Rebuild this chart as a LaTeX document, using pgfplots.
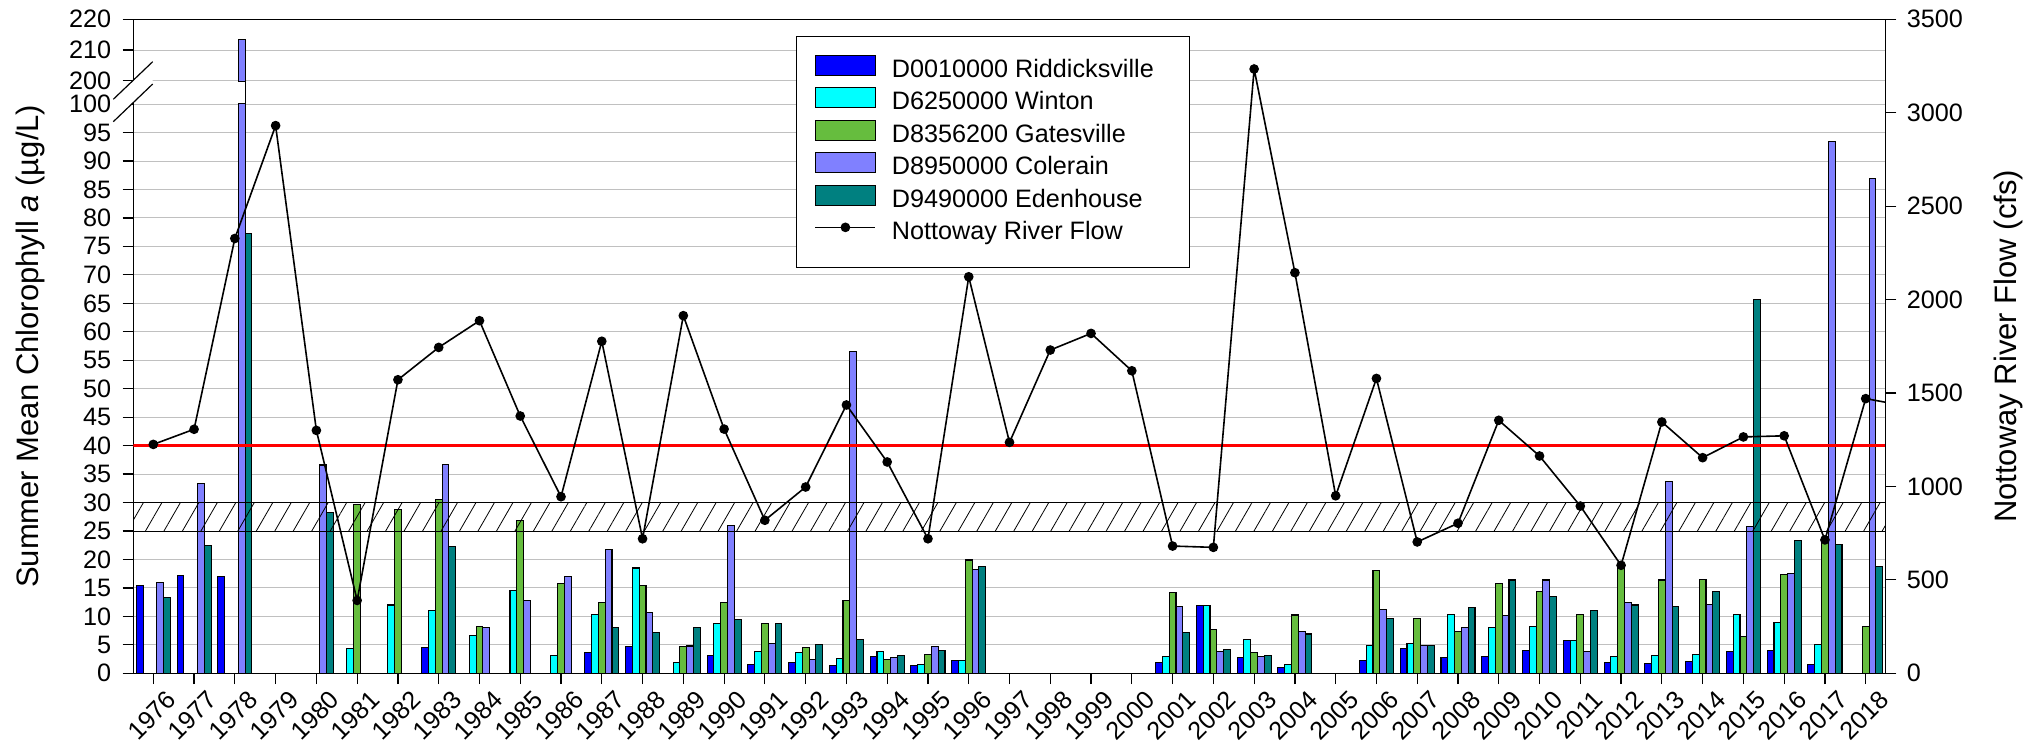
\documentclass[border=0pt]{standalone}
\usepackage{fontspec}
\setmainfont{Liberation Sans}
\usepackage{pgfplots}
\pgfplotsset{compat=1.18}
\usepackage{pgfplotstable}
\usetikzlibrary{patterns.meta}

\definecolor{ridd}{RGB}{0,0,255}
\definecolor{wint}{RGB}{0,255,255}
\definecolor{gate}{RGB}{102,189,62}
\definecolor{cole}{RGB}{128,128,255}
\definecolor{eden}{RGB}{0,128,128}
\definecolor{gridgray}{RGB}{192,192,192}

\newcommand{\tickfont}{\fontsize{12.6}{15}\selectfont}
\newcommand{\labfont}{\fontsize{15.5}{18}\selectfont}

% year index: 0 = 1976 ... 42 = 2018
\pgfplotstableread{
x y
0 15.5
1 17.2
2 17.0
7 4.5
11 3.7
12 4.7
14 3.2
15 1.6
16 1.9
17 1.3
18 3.0
19 1.35
20 2.3
25 1.9
26 11.95
27 2.75
28 1.0
30 2.2
31 4.4
32 2.75
33 2.9
34 4.0
35 5.7
36 1.9
37 1.7
38 2.05
39 3.8
40 4.0
41 1.5
}\tabRidd

\pgfplotstableread{
x y
5 4.3
6 12.0
7 11.0
8 6.7
9 14.5
10 3.2
11 10.4
12 18.5
13 1.9
14 8.7
15 3.9
16 3.7
17 2.6
18 3.9
19 1.6
20 2.3
25 3.0
26 11.95
27 5.9
28 1.6
30 4.9
31 5.3
32 10.3
33 8.1
34 8.3
35 5.7
36 2.9
37 3.1
38 3.3
39 10.4
40 9.0
41 5.0
}\tabWint

\pgfplotstableread{
x y
5 29.6
6 28.8
7 30.6
8 8.2
9 26.8
10 15.7
11 12.5
12 15.4
13 4.7
14 12.5
15 8.7
16 4.5
17 12.8
18 2.4
19 3.3
20 19.9
25 14.2
26 7.7
27 3.6
28 10.25
30 18.0
31 9.7
32 7.3
33 15.8
34 14.4
35 10.4
36 19.0
37 16.4
38 16.5
39 6.4
40 17.3
41 23.4
42 8.2
}\tabGate

\pgfplotstableread{
x y
0 16.0
1 33.3
2 213.5
4 36.6
7 36.7
8 8.0
9 12.8
10 17.0
11 21.8
12 10.7
13 4.8
14 26.0
15 5.3
16 2.4
17 56.5
18 2.75
19 4.7
20 18.3
25 11.7
26 3.9
27 2.9
28 7.3
30 11.2
31 4.9
32 8.0
33 10.2
34 16.4
35 3.9
36 12.5
37 33.7
38 12.1
39 25.8
40 17.6
41 93.5
42 87.0
}\tabCole

\pgfplotstableread{
x y
0 13.3
1 22.4
2 77.3
4 28.2
7 22.2
11 8.0
12 7.2
13 8.0
14 9.4
15 8.7
16 5.0
17 6.0
18 3.2
19 4.0
20 18.7
25 7.1
26 4.2
27 3.2
28 6.9
30 9.7
31 4.9
32 11.5
33 16.4
34 13.5
35 11.1
36 12.0
37 11.8
38 14.35
39 65.6
40 23.4
41 22.7
42 18.8
}\tabEden

\pgfplotstableread{
x y
0 1225
1 1306
2 2327
3 2931
4 1300
5 390
6 1571
7 1744
8 1887
9 1377
10 945
11 1777
12 720
13 1914
14 1307
15 819
16 997
17 1436
18 1131
19 720
20 2122
21 1236
22 1730
23 1819
24 1619
25 681
26 674
27 3234
28 2144
29 950
30 1578
31 703
32 803
33 1354
34 1163
35 895
36 578
37 1345
38 1154
39 1265
40 1271
41 714
42 1470
43 1430
}\tabFlow

\pgfplotsset{
  common/.style={
    at={(0pt,0pt)}, anchor=south west,
    scale only axis, width=876.2pt, height=327pt,
    xmin=-0.4906, xmax=42.4906,
    tick align=outside, major tick length=5.35pt,
    every tick/.style={black, line width=0.6pt},
    axis line style={line width=0.6pt},
    ticklabel style={font=\tickfont},
    /pgf/number format/assume math mode=true,
    /pgf/number format/1000 sep={},
    scaled ticks=false,
  },
  barleg/.style={legend image code/.code={\draw[##1, line width=0.55pt] (0pt,-2pt) rectangle (30pt,8pt);}},
  flowleg/.style={legend image code/.code={\draw[mark repeat=2, mark phase=2, ##1] plot coordinates {(0pt,3pt) (15pt,3pt) (30pt,3pt)};}},
}

\begin{document}
\begin{tikzpicture}
\begin{axis}[common,
  ymin=0, ymax=114.9,
  xtick={0,...,42},
  xticklabels={1976,1977,1978,1979,1980,1981,1982,1983,1984,1985,1986,1987,1988,1989,1990,1991,1992,1993,1994,1995,1996,1997,1998,1999,2000,2001,2002,2003,2004,2005,2006,2007,2008,2009,2010,2011,2012,2013,2014,2015,2016,2017,2018},
  ytick={0,5,10,15,20,25,30,35,40,45,50,55,60,65,70,75,80,85,90,95,100,104.1,109.5,114.9},
  yticklabels={0,5,10,15,20,25,30,35,40,45,50,55,60,65,70,75,80,85,90,95,100,200,210,220},
  tick pos=left,
  ymajorgrids, major grid style={gridgray, line width=0.5pt},
  xticklabel style={rotate=45, anchor=north east, inner sep=0pt, xshift=2.5pt, yshift=-6pt},
  yticklabel style={anchor=east, inner sep=0pt, xshift=-5.5pt},
  ylabel={Summer Mean Chlorophyll \textit{a} (µg/L)},
  every axis y label/.style={at={(axis description cs:-0.0584,0.5)}, rotate=90, anchor=center, font=\labfont},
  every axis plot/.append style={ybar, bar width=0.167, draw=black, line width=0.55pt},
]
\addplot[fill=ridd, bar shift=-0.334] table {\tabRidd};
\addplot[fill=wint, bar shift=-0.167] table {\tabWint};
\addplot[fill=gate, bar shift=0] table {\tabGate};
\addplot[fill=cole, bar shift=0.167, y filter/.expression={y>150 ? 104.1+(y-200)*0.54 : y}] table {\tabCole};
\addplot[fill=eden, bar shift=0.334] table {\tabEden};
% break in the tall 1978 bar
\fill[white] (axis cs:2.075,100.1) rectangle (axis cs:2.26,103.9);
\draw[black, line width=0.55pt] (axis cs:2.0836,100.1) -- (axis cs:2.2504,100.1);
\draw[black, line width=0.55pt] (axis cs:2.0836,103.9) -- (axis cs:2.2504,103.9);
% hatched band 25-30
\fill[pattern={Lines[angle=60, distance=8pt, line width=0.4pt]}] (axis cs:-0.4906,25) rectangle (axis cs:42.4906,30);
\draw[black, line width=0.5pt] (axis cs:-0.4906,25) -- (axis cs:42.4906,25);
\draw[black, line width=0.5pt] (axis cs:-0.4906,30) -- (axis cs:42.4906,30);
% criterion line
\draw[red, line width=1.5pt] (axis cs:-0.4906,40) -- (axis cs:42.4906,40);
\end{axis}

\begin{axis}[common,
  ymin=0, ymax=3500,
  axis x line=none, axis y line*=right,
  ytick={0,500,...,3500},
  yticklabel style={anchor=west, inner sep=0pt, xshift=5pt},
  ylabel={Nottoway River Flow (cfs)},
  every axis y label/.style={at={(axis description cs:1.070,0.5)}, rotate=90, anchor=center, font=\labfont},
  legend style={at={(axis description cs:0.37817,0.97446)}, anchor=north west,
    draw=black, line width=0.6pt, fill=white, inner xsep=9pt, inner ysep=9pt,
    row sep=0pt, font=\fontsize{12.6}{15}\selectfont,
    nodes={inner sep=0pt, text height=11pt, text depth=5pt},
    /tikz/every odd column/.style={column sep=7.85pt}},
  legend cell align=left,
]
\addlegendimage{barleg, fill=ridd, draw=black}
\addlegendentry{D0010000 Riddicksville\hspace*{9pt}}
\addlegendimage{barleg, fill=wint, draw=black}
\addlegendentry{D6250000 Winton}
\addlegendimage{barleg, fill=gate, draw=black}
\addlegendentry{D8356200 Gatesville}
\addlegendimage{barleg, fill=cole, draw=black}
\addlegendentry{D8950000 Colerain}
\addlegendimage{barleg, fill=eden, draw=black}
\addlegendentry{D9490000 Edenhouse}
\addplot[black, line width=0.8pt, mark=*, mark size=2pt, mark options={fill=black}, flowleg] table {\tabFlow};
\addlegendentry{Nottoway River Flow}
\end{axis}

% axis break marks
\fill[white] (-10pt,275.8pt) -- (9.7pt,294.65pt) -- (9.7pt,305.8pt) -- (-10pt,287pt) -- cycle;
\draw[black, line width=0.6pt] (-10pt,287pt) -- (9.7pt,305.8pt);
\draw[black, line width=0.6pt] (-10pt,275.8pt) -- (9.7pt,294.65pt);

\pgfresetboundingbox
\path[use as bounding box] (-66.65pt,-38.85pt) rectangle (947.35pt,336.65pt);
\end{tikzpicture}
\end{document}
